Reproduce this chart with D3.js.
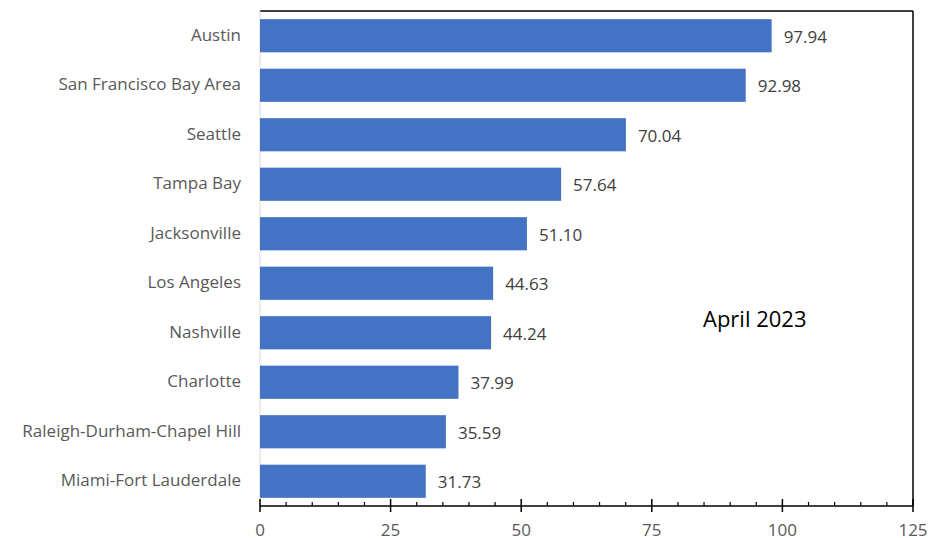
<!DOCTYPE html>
<html>
<head>
<meta charset="utf-8">
<script src="https://cdn.jsdelivr.net/npm/d3@7"></script>
<style>
  body { margin: 0; background: #fff; }
  svg { display: block; font-family: "Open Sans", sans-serif; }
</style>
</head>
<body>
<div id="chart"></div>
<script>
// Data
const cities = ["Austin", "San Francisco Bay Area", "Seattle", "Tampa Bay", "Jacksonville",
  "Los Angeles", "Nashville", "Charlotte", "Raleigh-Durham-Chapel Hill", "Miami-Fort Lauderdale"];
const values = [97.94, 92.98, 70.04, 57.64, 51.10, 44.63, 44.24, 37.99, 35.59, 31.73];
const majorTicks = [0, 25, 50, 75, 100, 125];
const annotation = "April 2023";

const width = 928;
const height = 538;
const margin = {top: 11, right: 15, bottom: 32, left: 260};
const innerWidth = width - margin.left - margin.right;
const innerHeight = height - margin.top - margin.bottom;

const data = cities.map((c, i) => ({city: c, value: values[i]}));

const svg = d3.select("#chart")
  .append("svg")
    .attr("width", width)
    .attr("height", height);

const inner = svg.append("g")
  .attr("transform", `translate(${margin.left}, ${margin.top})`);

const xScale = d3.scaleLinear()
  .domain([0, 125])
  .range([0, innerWidth]);

const yScale = d3.scaleBand()
  .domain(cities)
  .range([0, innerHeight])
  .paddingInner(0.33)
  .paddingOuter(0.165);

// frame: top and right black, left faint
inner.append("line")
  .attr("x1", 0).attr("x2", innerWidth)
  .attr("y1", 0).attr("y2", 0)
  .attr("stroke", "#000").attr("stroke-width", 1.5);
inner.append("line")
  .attr("x1", innerWidth).attr("x2", innerWidth)
  .attr("y1", 0).attr("y2", innerHeight)
  .attr("stroke", "#000").attr("stroke-width", 1.5);
inner.append("line")
  .attr("x1", 0).attr("x2", 0)
  .attr("y1", 0).attr("y2", innerHeight)
  .attr("stroke", "#d9d9d9").attr("stroke-width", 1);

// bars
inner.selectAll(".bar")
  .data(data)
  .join("rect")
    .attr("class", "bar")
    .attr("x", 0)
    .attr("y", d => yScale(d.city))
    .attr("width", d => xScale(d.value))
    .attr("height", yScale.bandwidth())
    .attr("fill", "#4472C4");

// value labels
inner.selectAll(".value-label")
  .data(data)
  .join("text")
    .attr("class", "value-label")
    .attr("x", d => xScale(d.value) + 12)
    .attr("y", d => yScale(d.city) + yScale.bandwidth() / 2 + 7)
    .attr("fill", "#404040")
    .style("font-size", "17px")
    .text(d => d.value.toFixed(2));

// category labels
inner.selectAll(".cat-label")
  .data(data)
  .join("text")
    .attr("class", "cat-label")
    .attr("x", -19)
    .attr("y", d => yScale(d.city) + yScale.bandwidth() / 2 + 5)
    .attr("text-anchor", "end")
    .attr("fill", "#595959")
    .style("font-size", "17px")
    .text(d => d.city);

// bottom axis with minor ticks
const axisG = inner.append("g")
  .attr("transform", `translate(0, ${innerHeight})`);

axisG.append("line")
  .attr("x1", 0).attr("x2", innerWidth)
  .attr("stroke", "#000").attr("stroke-width", 1.5);

axisG.selectAll(".minor")
  .data(d3.range(0, 126, 5).filter(v => v % 25 !== 0))
  .join("line")
    .attr("class", "minor")
    .attr("x1", d => xScale(d)).attr("x2", d => xScale(d))
    .attr("y1", -4).attr("y2", 0)
    .attr("stroke", "#000").attr("stroke-width", 1.2);

axisG.selectAll(".major")
  .data(majorTicks)
  .join("line")
    .attr("class", "major")
    .attr("x1", d => xScale(d)).attr("x2", d => xScale(d))
    .attr("y1", -7).attr("y2", 6)
    .attr("stroke", "#000").attr("stroke-width", 1.5);

axisG.selectAll(".tick-label")
  .data(majorTicks)
  .join("text")
    .attr("class", "tick-label")
    .attr("x", d => xScale(d))
    .attr("y", 30)
    .attr("text-anchor", "middle")
    .attr("fill", "#595959")
    .style("font-size", "17px")
    .text(d => d);

// annotation
inner.append("text")
  .attr("x", 443)
  .attr("y", 316)
  .attr("fill", "#000")
  .style("font-size", "22px")
  .text(annotation);
</script>
</body>
</html>
